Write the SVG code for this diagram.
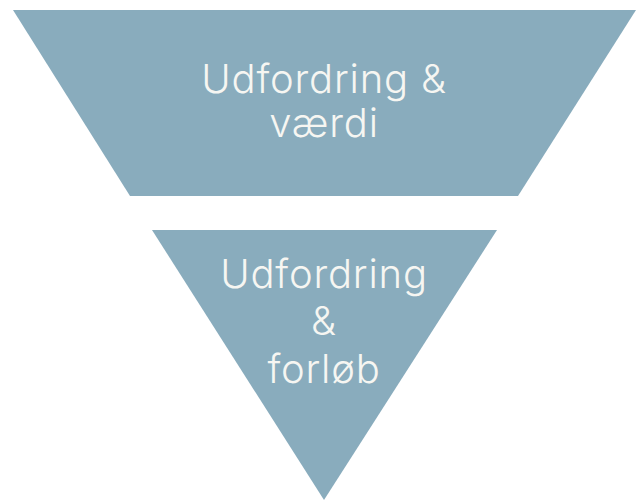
<svg xmlns="http://www.w3.org/2000/svg" width="640" height="501" viewBox="0 0 640 501">
  <style>
    .shape { fill: #89acbd; }
    .label { fill: #f6f6f2; font-family: Inter, "Open Sans", "Liberation Sans", sans-serif; font-size: 40px; font-weight: 300; letter-spacing: 0.8px; text-anchor: middle; }
  </style>
  <rect width="640" height="501" fill="#ffffff"/>
  <g id="udfordring-vaerdi">
    <polygon class="shape" points="13,10 636,10 518,196 130,196"/>
    <text class="label" x="324" y="93">Udfordring &amp;</text>
    <text class="label" x="324" y="137">værdi</text>
  </g>
  <g id="udfordring-forloeb">
    <polygon class="shape" points="152,230 497,230 324,500"/>
    <text class="label" x="324" y="288">Udfordring</text>
    <text class="label" x="324" y="335">&amp;</text>
    <text class="label" x="324" y="383">forløb</text>
  </g>
  <g id="connectors"/>
</svg>
